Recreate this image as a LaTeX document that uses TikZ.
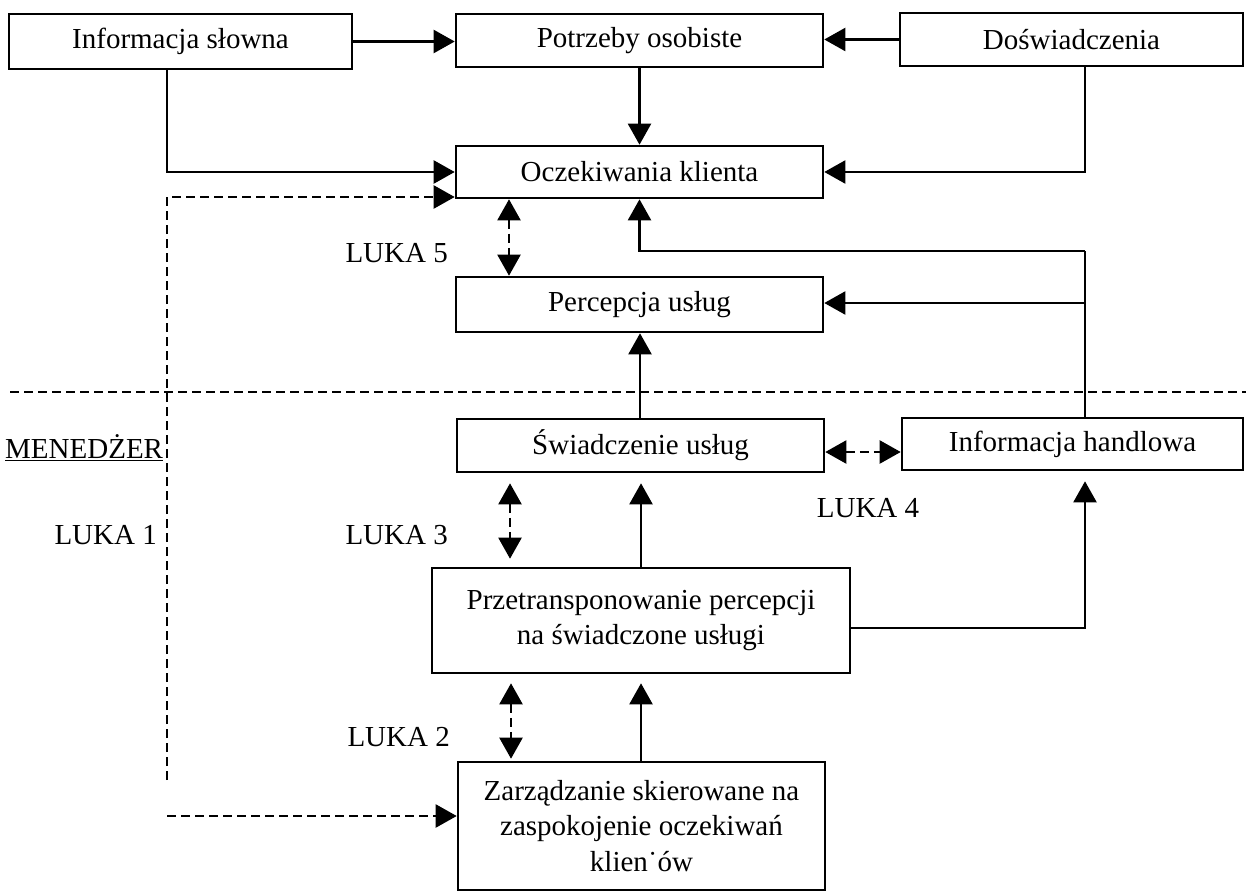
\documentclass[tikz,border=0pt]{standalone}
\usepackage{fontspec}
\setmainfont{Liberation Serif}
\usetikzlibrary{arrows.meta}
\tikzset{
  box/.style={draw, line width=2.6pt, rectangle, align=center, inner sep=0pt,
    font=\fontsize{29}{35.5}\selectfont},
  lbl/.style={inner sep=0pt, font=\fontsize{29}{35.5}\selectfont},
  conn/.style={line width=2.2pt},
  arr/.style={conn, -{Triangle[length=21pt,width=23pt]}},
  dsh/.style={line width=2.2pt, dash pattern=on 9pt off 5pt},
  darr/.style={dsh, -{Triangle[length=21pt,width=23pt]}},
  ddarr/.style={dsh, {Triangle[length=21pt,width=23pt]}-{Triangle[length=21pt,width=23pt]}},
}
\begin{document}
\begin{tikzpicture}[x=1pt,y=-1pt]
\useasboundingbox (0,0) rectangle (1246,893);
% boxes
\node[box, minimum width=343pt, minimum height=55pt] (isl) at (180.5,41.5) {Informacja słowna};
\node[box, minimum width=367pt, minimum height=53pt] (pot) at (639.5,40.5) {Potrzeby osobiste};
\node[box, minimum width=343pt, minimum height=53pt] (dos) at (1071.5,39.5) {Doświadczenia};
\node[box, minimum width=367pt, minimum height=52pt] (ocz) at (639.5,172) {Oczekiwania klienta};
\node[box, minimum width=367pt, minimum height=55pt] (per) at (639.5,304.5) {Percepcja usług};
\node[box, minimum width=367pt, minimum height=53pt] (swi) at (640.5,445.5) {Świadczenie usług};
\node[box, minimum width=341pt, minimum height=52pt] (ih) at (1072.5,444) {Informacja handlowa};
\node[box, minimum width=418pt, minimum height=105pt] (prz) at (641,620.5) {Przetransponowanie percepcji\\na świadczone usługi};
\node[box, minimum width=367pt, minimum height=128pt] (zar) at (641.5,826) {Zarządzanie skierowane na\\zaspokojenie oczekiwań\\klien˙ów};
% labels
\node[lbl, anchor=east] (l5) at (448,253) {LUKA 5};
\node[lbl, anchor=east] (l1) at (157,535) {LUKA 1};
\node[lbl, anchor=east] (l3) at (448,535) {LUKA 3};
\node[lbl, anchor=east] (l2) at (450,737) {LUKA 2};
\node[lbl] (l4) at (868,508) {LUKA 4};
\node[lbl, anchor=west] (men) at (5,448) {\underline{MENEDŻER}};
% coordinates
\coordinate (dl) at (10,392);
\coordinate (dr) at (1246,392);
\coordinate (v1a) at (167,780);
\coordinate (v1b) at (167,816);
\coordinate (br) at (1085,303);
\coordinate (top) at (1085,251);
% top connectors
\draw[arr] (isl.east) -- (pot.west |- isl.east);
\draw[arr] (dos.west) -- (pot.east |- dos.west);
\draw[arr] (pot.south) -- (ocz.north);
\draw[arr] (isl.south -| v1a) |- (ocz.west);
\draw[arr] (dos.south -| br) |- (ocz.east);
\draw[conn] (ih.north -| br) -- (top);
\draw[arr] (top) -| (ocz.south);
\draw[arr] (br) -- (per.east |- br);
\draw[ddarr] (ocz.south -| 509,0) -- (per.north -| 509,0);
% divider
\draw[dsh] (dl) -- (dr);
% lower connectors
\draw[arr] (swi.north -| 640,0) -- (per.south -| 640,0);
\draw[ddarr] (swi.east |- 0,452) -- (ih.west |- 0,452);
\draw[arr, shorten >=10pt] (prz.north -| 641,0) -- (swi.south -| 641,0);
\draw[ddarr, shorten <=10pt, shorten >=8pt] (swi.south -| 510,0) -- (prz.north -| 510,0);
\draw[arr, shorten >=9pt] (zar.north -| 641,0) -- (prz.south -| 641,0);
\draw[ddarr, shorten <=9pt, shorten >=2pt] (prz.south -| 511,0) -- (zar.north -| 511,0);
\draw[arr, shorten >=10pt] (prz.east |- 0,628) -| (ih.south -| br);
% LUKA 1 dashed
\draw[darr] (v1a) |- (ocz.west |- 0,197);
\draw[darr] (v1b) -- (zar.west |- v1b);
\end{tikzpicture}
\end{document}
